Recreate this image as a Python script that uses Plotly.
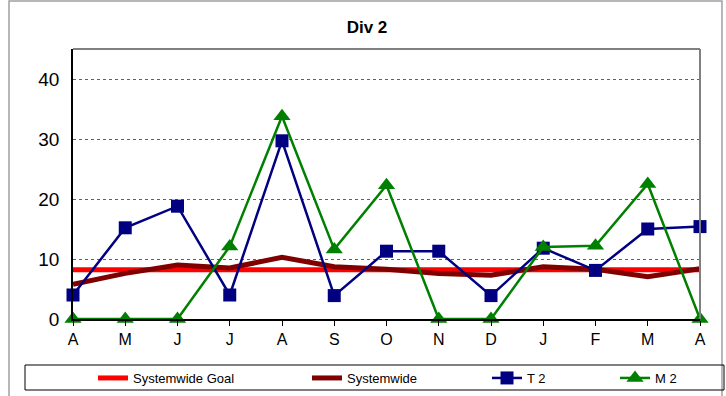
import plotly.graph_objects as go

months = ["A", "M", "J", "J", "A", "S", "O", "N", "D", "J", "F", "M", "A"]
goal = [8.2] * 13
systemwide = [5.8, 7.6, 9.0, 8.5, 10.3, 8.7, 8.3, 7.6, 7.3, 8.7, 8.3, 7.05, 8.4]
t2 = [4.0, 15.2, 18.8, 4.0, 29.7, 3.9, 11.3, 11.3, 3.9, 11.8, 8.1, 15.0, 15.4]
m2 = [0, 0, 0, 12.1, 33.8, 11.6, 22.3, 0, 0, 12.0, 12.2, 22.5, 0]
y_ticks = [0, 10, 20, 30, 40]

x = list(range(len(months)))

fig = go.Figure()
fig.add_trace(go.Scatter(x=x, y=goal, mode="lines", name="Systemwide Goal",
                         line=dict(color="#ff0000", width=5), legend="legend"))
fig.add_trace(go.Scatter(x=x, y=systemwide, mode="lines", name="Systemwide",
                         line=dict(color="#800000", width=5), legend="legend2"))
fig.add_trace(go.Scatter(x=x, y=t2, mode="lines+markers", name="T 2",
                         line=dict(color="#000080", width=2.5),
                         marker=dict(symbol="square", size=13, color="#000080"),
                         cliponaxis=False, legend="legend3"))
fig.add_trace(go.Scatter(x=x, y=m2, mode="lines+markers", name="M 2",
                         line=dict(color="#008000", width=2.5),
                         marker=dict(symbol="triangle-up", size=15, color="#008000"),
                         cliponaxis=False, legend="legend4"))

L, R, T, B = 73, 26, 49, 77
W, H = 726, 396
pw = W - L - R
ph = H - T - B

def px(xp):
    return (xp - L) / pw

def py(yp):
    return (H - B - yp) / ph

leg_font = dict(family="Liberation Sans Narrow, Liberation Sans, Arial", size=13, color="black")
def leg(xp):
    return dict(xref="container", yref="container", x=xp / W, y=1 - 363 / H,
                xanchor="left", yanchor="top",
                orientation="h", bgcolor="rgba(0,0,0,0)", borderwidth=0,
                font=leg_font)

fig.update_layout(
    width=W, height=H,
    margin=dict(l=L, r=R, t=T, b=B, autoexpand=False),
    paper_bgcolor="white", plot_bgcolor="white",
    title=dict(text="<b>Div 2</b>", x=367 / W, xanchor="center", y=1 - 27 / H, yanchor="middle",
               font=dict(family="Liberation Sans, Arial", size=17, color="black")),
    xaxis=dict(range=[0, 12], tickvals=x, ticktext=months, showgrid=False,
               ticks="outside", ticklen=5, tickcolor="black", showline=True,
               linecolor="black", linewidth=1.5, zeroline=False,
               tickfont=dict(family="Liberation Sans, Arial", size=16, color="black")),
    yaxis=dict(range=[0, 45], tickvals=y_ticks, showgrid=True, gridcolor="#606060",
               griddash="dot", gridwidth=1, showline=True, linecolor="black",
               linewidth=1.5, zeroline=False, ticks="", ticklabelstandoff=8,
               tickfont=dict(family="Liberation Sans, Arial", size=19, color="black")),
    legend=leg(93),
    legend2=leg(307),
    legend3=leg(487),
    legend4=leg(615),
    showlegend=True,
    shapes=[
        dict(type="rect", xref="paper", yref="paper", x0=px(9), x1=px(722), y0=py(398), y1=py(1),
             line=dict(color="#a0a0a0", width=1.5), layer="below"),
        dict(type="line", xref="paper", yref="paper", x0=0, x1=1, y0=1, y1=1,
             line=dict(color="#808080", width=2)),
        dict(type="line", xref="paper", yref="paper", x0=1, x1=1, y0=0, y1=1,
             line=dict(color="#808080", width=2)),
        dict(type="rect", xref="paper", yref="paper", x0=px(25), x1=px(724), y0=py(390), y1=py(365),
             line=dict(color="black", width=1)),
    ],
)

fig.write_html("out.html", config={"displayModeBar": False},
               post_script="document.body.style.margin='0';document.body.style.overflow='hidden';")
